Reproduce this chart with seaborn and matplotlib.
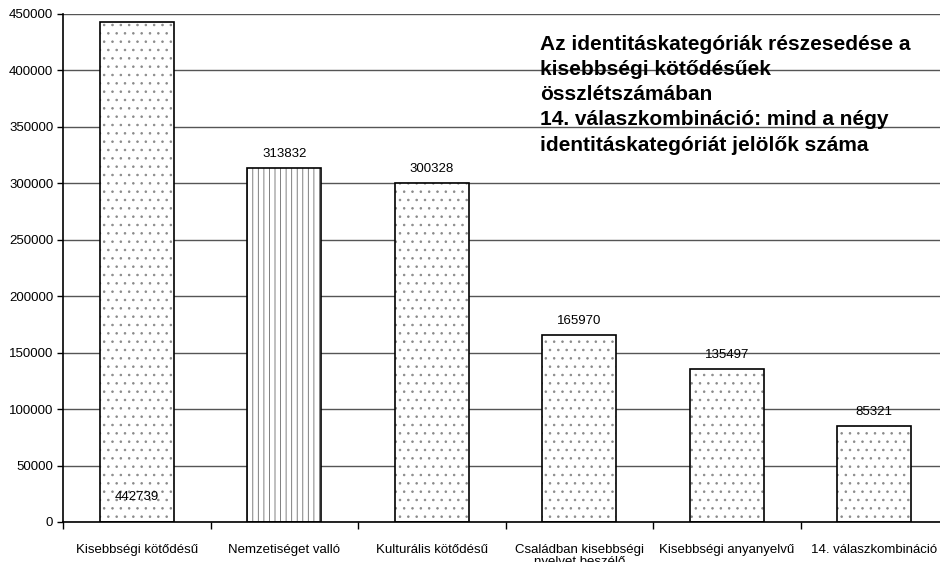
import matplotlib
matplotlib.use("Agg")
import matplotlib.pyplot as plt
import seaborn as sns
import pandas as pd

categories = ["Kisebbségi kötődésű", "Nemzetiséget valló", "Kulturális kötődésű",
              "Családban kisebbségi\nnyelvet beszélő", "Kisebbségi anyanyelvű",
              "14. válaszkombináció"]
values = [442739, 313832, 300328, 165970, 135497, 85321]
hatches = ["..", "|||", "..", "..", "..", ".."]
yticks = [0, 50000, 100000, 150000, 200000, 250000, 300000, 350000, 400000, 450000]
title_text = ("Az identitáskategóriák részesedése a\nkisebbségi kötődésűek\n"
              "összlétszámában\n14. válaszkombináció: mind a négy\n"
              "identitáskategóriát jelölők száma")

sns.set_theme(style="white")
plt.rcParams["font.family"] = ["Liberation Sans", "DejaVu Sans"]
plt.rcParams["hatch.linewidth"] = 0.6
for k in ["text.color", "axes.labelcolor", "xtick.color", "ytick.color"]:
    plt.rcParams[k] = "black"

df = pd.DataFrame({"cat": categories, "val": values})

fig = plt.figure(figsize=(9.4, 5.62), dpi=100)
ax = fig.add_axes([63 / 940, 1 - 522 / 562, (948 - 63) / 940, (522 - 14) / 562])

sns.barplot(data=df, x="cat", y="val", ax=ax, color="white", width=0.5,
            edgecolor="#7a7a7a", linewidth=0, saturation=1, zorder=2)

for p, h in zip(ax.patches, hatches):
    p.set_hatch(h)
    if h.startswith("|"):
        p.set_edgecolor("#6a6a6a")
    else:
        p.set_edgecolor("#8a8a8a")
    p.set_linewidth(0)
    ax.add_patch(plt.Rectangle(p.get_xy(), p.get_width(), p.get_height(),
                               fill=False, edgecolor="black", linewidth=1.2, zorder=3))

ax.set_ylim(0, 450000)
ax.set_xlim(-0.5, len(categories) - 0.5)
ax.set_yticks(yticks)
ax.set_yticklabels([str(v) for v in yticks], fontsize=9.5)
ax.yaxis.grid(True, color="#555555", linewidth=1.0)
ax.set_axisbelow(True)
ax.set_xlabel("")
ax.set_ylabel("")

ax.set_xticks(range(len(categories)))
ax.set_xticklabels(categories, fontsize=9.5, linespacing=1.0)
ax.tick_params(axis="x", length=0, pad=16)
ax.set_xticks([i + 0.5 for i in range(-1, len(categories))], minor=True)
ax.tick_params(axis="x", which="minor", length=5, width=1, color="black", direction="out", bottom=True)
ax.tick_params(axis="y", length=4, width=1, color="black", direction="out", left=True, pad=3)

for s in ["top", "right"]:
    ax.spines[s].set_visible(False)
for s in ["left", "bottom"]:
    ax.spines[s].set_color("black")
    ax.spines[s].set_linewidth(1.2)

for i, v in enumerate(values):
    if i == 0:
        ax.annotate(str(v), xy=(i, 0), xytext=(0, 18), textcoords="offset points",
                    ha="center", va="center", fontsize=9.5)
    else:
        ax.annotate(str(v), xy=(i, v), xytext=(0, 10), textcoords="offset points",
                    ha="center", va="center", fontsize=9.5)

fig.text(540 / 940, 1 - 35 / 562, title_text, ha="left", va="top", fontsize=15,
         fontweight="bold", linespacing=1.41)

fig.savefig("out.png", dpi=100)
